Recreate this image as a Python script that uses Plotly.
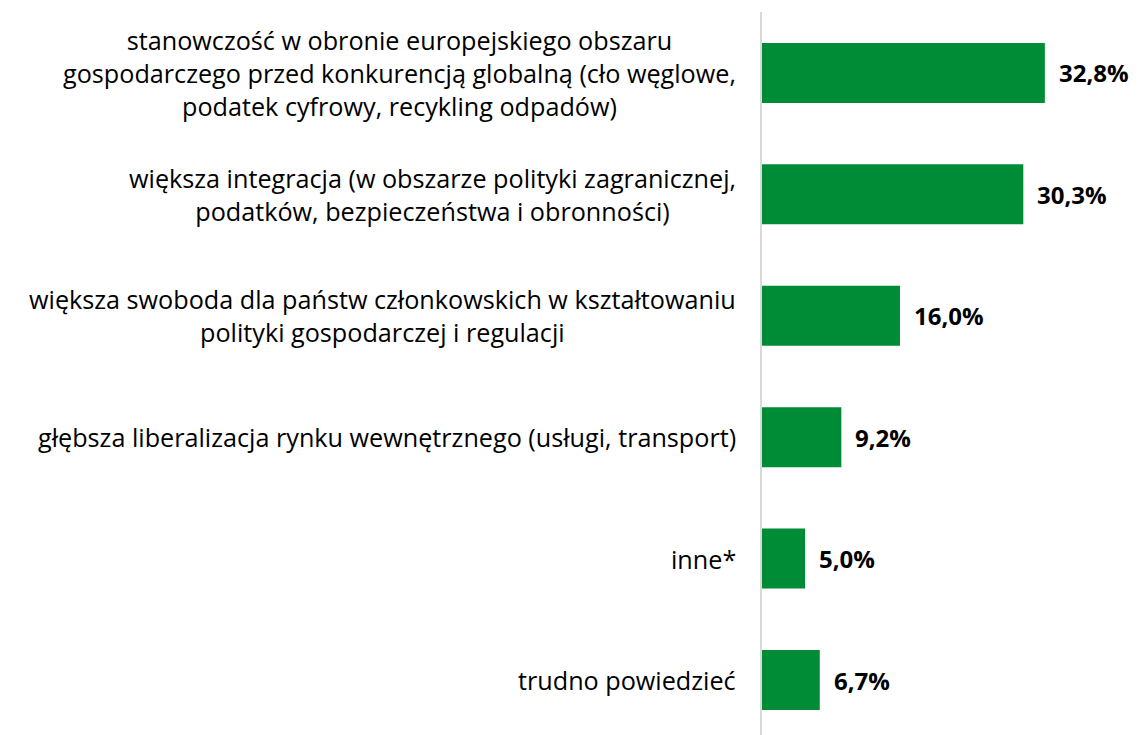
import plotly.graph_objects as go

categories = [
    "stanowczość w obronie europejskiego obszaru<br>gospodarczego przed konkurencją globalną (cło węglowe,<br>podatek cyfrowy, recykling odpadów)",
    "większa integracja (w obszarze polityki zagranicznej,<br>podatków, bezpieczeństwa i obronności)",
    "większa swoboda dla państw członkowskich w kształtowaniu<br>polityki gospodarczej i regulacji",
    "głębsza liberalizacja rynku wewnętrznego (usługi, transport)",
    "inne*",
    "trudno powiedzieć",
]
values = [32.8, 30.3, 16.0, 9.2, 5.0, 6.7]
value_labels = [f"{v:.1f}".replace(".", ",") + "%" for v in values]

FONT = "Open Sans"
GREEN = "#008C37"

ids = list(range(len(categories)))

fig = go.Figure()
fig.add_trace(go.Bar(
    x=values, y=ids, orientation="h",
    marker=dict(color=GREEN, line=dict(width=0)),
    hoverinfo="skip",
))

annotations = []
for i, (c, v, lab) in enumerate(zip(categories, values, value_labels)):
    annotations.append(dict(
        x=0, xref="paper", y=i, yref="y", text=c, showarrow=False,
        xanchor="right", yanchor="middle", align="center", xshift=-24,
        font=dict(family=FONT, size=25.2, color="#000000"),
    ))
    annotations.append(dict(
        x=v, xref="x", y=i, yref="y", text=f"<b>{lab}</b>", showarrow=False,
        xanchor="left", yanchor="middle", xshift=12,
        font=dict(family=FONT, size=24, color="#000000"),
    ))

fig.update_layout(
    width=1130, height=727,
    margin=dict(l=754, r=0, t=4, b=0),
    paper_bgcolor="white", plot_bgcolor="white",
    showlegend=False, bargap=0.506,
    annotations=annotations,
    xaxis=dict(range=[0, 43.6], showgrid=False, zeroline=False,
               showticklabels=False, showline=False, fixedrange=True),
    yaxis=dict(range=[5.453, -0.502], showgrid=False, zeroline=False,
               showticklabels=False, ticks="", showline=True,
               linecolor="#D9D9D9", linewidth=2, fixedrange=True),
)

fig.write_html("out.html")
